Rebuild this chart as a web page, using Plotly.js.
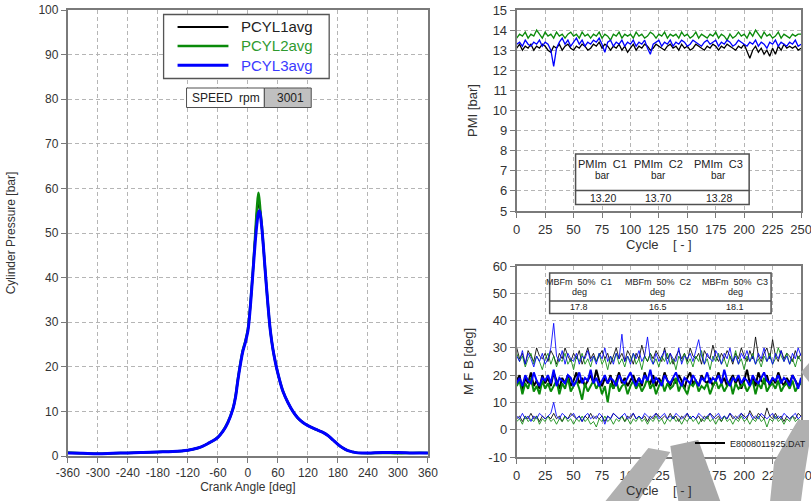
<!DOCTYPE html>
<html><head><meta charset="utf-8">
<script src="https://cdn.plot.ly/plotly-3.0.1.min.js"></script>
<style>html,body{margin:0;padding:0;background:#fff}#c{width:811px;height:501px}</style>
</head><body><div id="c"></div>
<script>
// ---- Cylinder pressure vs crank angle ----
const crankAngle = [-360,-330,-300,-270,-240,-210,-180,-150,-120,-100,-90,-80,-70,-60,-50,-40,-30,-25,-20,-15,-10,-5,0,3,6,10,14,18,21,23,25,28,31,35,40,45,50,55,60,70,80,90,100,110,120,135,150,160,170,180,190,200,210,220,240,270,300,330,360];
const pcyl1 = [0.7,0.6,0.5,0.6,0.7,0.8,0.9,1.0,1.3,1.8,2.2,2.8,3.4,4.2,5.5,7.5,10.5,13.1,17.1,20.6,23.6,25.6,28.2,31.2,35.2,41.2,48,54.5,57,56,54.5,51,47,41,34,28,24,21,18.5,14.5,12,10,8.5,7.5,6.8,6,5.3,4.6,3.6,2.6,1.8,1.2,0.9,0.7,0.7,0.8,0.8,0.7,0.7];
const pcyl2 = [0.8,0.6,0.5,0.6,0.7,0.8,0.9,1.0,1.3,1.8,2.2,2.8,3.4,4.2,5.6,7.6,10.6,13.2,17.2,20.8,23.8,25.8,28.5,31.5,35.5,41.5,48.5,55.5,59,57.5,55,51.5,47,41,34,28,24,21,18.5,14.6,12,10,8.5,7.5,6.8,6,5.3,4.6,3.6,2.6,1.8,1.2,0.9,0.7,0.6,0.7,0.6,0.7,0.7];
const pcyl3 = [0.7,0.6,0.5,0.6,0.7,0.8,0.9,1.0,1.3,1.8,2.2,2.8,3.4,4.2,5.5,7.5,10.5,13,17,20.5,23.5,25.5,28,31,35,41,47,52,54.5,55,54,51,47,41,34,28,24,21,18.5,14.5,12,10,8.5,7.5,6.8,6,5.3,4.6,3.6,2.6,1.8,1.2,0.9,0.7,0.7,0.8,0.8,0.7,0.7];
const pressureNames = ['PCYL1avg', 'PCYL2avg', 'PCYL3avg'];

// ---- PMI per cycle (sampled every 2.5 cycles) ----
const pmiC1 = [13.1,13.3,13.0,13.2,13.1,13.3,13.0,13.2,13.1,13.3,13.2,13.0,12.9,13.2,13.1,13.3,13.0,13.2,13.3,13.1,13.0,13.2,13.1,13.3,13.2,13.0,13.1,13.3,13.2,13.4,13.1,13.3,13.2,13.0,13.2,13.1,13.3,13.0,13.2,12.9,13.1,13.3,13.0,13.2,13.1,13.3,13.2,13.0,13.1,13.3,13.2,13.1,13.0,13.2,13.3,13.1,13.2,13.0,13.3,13.1,13.2,13.0,13.1,13.3,13.2,13.1,13.0,13.2,13.1,13.3,13.2,13.0,13.2,13.1,13.3,13.2,13.1,13.0,13.2,13.1,13.3,12.9,12.6,13.0,13.2,12.9,13.1,12.8,13.0,12.7,13.1,12.8,13.2,13.0,13.3,13.1,13.2,13.1,13.2,13.0,13.1];
const pmiC2 = [13.6,13.8,13.7,13.9,13.6,13.8,13.7,14.0,13.8,13.6,13.9,13.7,13.8,13.6,13.9,13.7,13.8,13.6,13.8,13.9,13.7,13.8,13.6,13.9,13.7,13.8,13.6,13.8,13.7,13.9,13.6,13.8,13.7,13.5,13.8,13.7,13.9,13.6,13.8,13.7,13.8,13.6,13.9,13.7,13.8,13.6,13.7,13.9,13.8,13.6,13.8,13.7,13.9,13.6,13.8,13.7,13.8,13.6,13.9,13.7,13.8,13.6,13.7,13.9,13.6,13.8,13.7,13.6,13.8,13.7,13.9,13.6,13.8,13.7,13.5,13.8,13.6,13.7,13.9,13.7,13.8,13.6,13.9,13.7,14.0,13.8,13.6,13.9,13.7,13.8,13.6,13.7,13.9,13.6,13.8,13.7,13.6,13.8,13.7,13.8,13.8];
const pmiC3 = [13.3,13.4,13.2,13.5,13.3,13.2,13.4,13.3,13.5,13.2,13.4,13.3,13.0,12.2,13.1,13.4,13.6,13.3,13.5,13.2,13.4,13.6,13.3,13.5,13.2,13.4,13.3,13.5,13.4,13.6,13.3,12.9,13.4,13.5,13.2,13.4,13.3,13.5,13.2,13.4,13.3,13.5,13.2,13.4,13.3,13.5,13.1,12.8,13.3,13.4,13.5,13.2,13.4,13.3,13.5,13.2,13.4,13.3,13.5,13.4,13.2,13.3,13.5,13.4,13.3,13.2,13.4,13.5,13.3,13.4,13.5,13.2,13.4,13.3,13.5,13.4,13.2,13.3,13.5,13.4,13.3,13.2,13.4,13.3,13.5,13.2,13.4,13.3,13.1,13.4,13.3,13.5,13.2,13.4,13.3,13.2,13.4,13.3,13.5,13.2,13.3];

// ---- MFB per cycle (10% / 50% / 90%) ----
const mfb50C1 = [18,20,14,19,17,21,16,18,15,20,17,19,16,21,18,15,19,17,20,16,18,21,17,19,16,18,20,17,22,18,16,19,17,20,15,18,21,17,19,16,18,20,17,19,16,21,18,17,20,16,19,17,21,18,16,19,17,20,18,15,19,21,17,18,16,20,18,17,19,16,18,21,17,19,16,18,20,17,19,15,18,22,17,19,16,21,18,17,20,16,19,17,21,18,16,19,17,20,18,16,18];
const mfb50C2 = [16,18,13,17,15,19,14,16,13,18,15,17,14,16,18,13,17,15,19,14,16,18,15,11,17,14,16,18,15,17,13,16,10,17,15,18,14,16,17,13,16,18,15,17,14,16,19,15,17,13,16,18,14,17,15,16,19,14,17,15,13,17,16,18,14,16,15,17,13,16,18,15,17,14,16,18,13,17,15,16,17,14,16,18,13,17,15,19,14,16,17,15,18,14,16,17,15,18,14,16,17];
const mfb50C3 = [17,19,16,20,18,17,21,18,16,19,18,20,17,22,16,19,18,17,20,19,16,18,21,17,19,18,22,17,19,16,18,20,17,19,18,16,20,18,17,19,21,18,16,19,17,20,18,22,17,19,18,16,20,18,17,19,21,18,16,19,18,17,20,18,16,19,18,21,17,19,18,20,17,22,18,16,19,18,20,17,19,18,16,20,18,17,19,21,18,17,19,18,20,17,19,18,16,20,18,15,19];
const mfb90C1 = [30,26,28,24,29,27,25,30,27,26,28,25,29,27,24,28,26,30,27,25,28,26,29,24,27,30,26,28,25,27,29,26,28,24,27,30,26,28,25,29,27,24,28,26,31,27,25,28,26,29,27,25,30,26,28,24,27,29,26,28,25,30,27,26,28,24,29,27,26,31,27,25,28,26,29,27,24,28,26,30,27,25,29,26,34,27,25,28,30,26,33,27,25,29,26,28,27,25,29,26,28];
const mfb90C2 = [28,25,27,23,26,28,24,27,25,22,26,28,24,27,23,26,25,28,24,26,22,27,25,28,24,26,23,27,25,28,24,26,22,27,25,28,24,26,23,27,25,28,24,26,22,27,25,28,24,26,23,27,25,28,24,26,22,27,25,28,24,26,23,27,25,29,24,26,22,27,25,28,24,26,23,27,25,29,24,26,22,27,25,28,24,26,23,27,25,28,24,26,30,27,25,28,24,26,23,27,25];
const mfb90C3 = [27,25,29,24,28,26,23,27,25,28,24,26,30,39,27,25,29,24,28,26,25,28,24,27,26,29,25,27,24,28,26,30,25,27,24,28,26,35,25,27,24,28,26,29,25,27,34,26,24,28,25,27,29,24,28,26,25,30,24,27,26,28,25,29,33,27,24,28,26,25,29,27,24,28,26,30,25,27,24,28,26,29,25,27,24,28,26,30,25,27,24,28,26,29,25,27,24,28,26,30,27];
const mfb10C1 = [4,5,3,5,4,6,4,5,3,5,4,5,4,6,4,5,3,5,4,6,5,4,5,3,5,4,6,4,5,4,5,3,5,4,6,5,4,5,3,5,4,6,4,5,4,5,3,5,4,6,5,4,5,4,6,4,5,3,5,4,6,4,5,4,5,3,5,4,6,5,4,5,3,5,4,6,4,5,4,6,5,4,7,5,4,6,5,4,8,5,4,6,4,5,3,5,4,5,4,6,5];
const mfb10C2 = [3,4,2,5,3,4,3,5,2,4,3,5,3,4,2,4,3,5,3,4,2,4,3,5,3,4,2,3,1,4,3,5,3,4,2,4,3,5,3,4,2,4,3,5,3,4,2,4,3,5,3,4,2,4,3,5,3,4,2,4,3,5,3,4,2,4,3,5,3,4,2,4,3,5,3,4,2,4,3,5,3,4,2,4,3,5,3,4,1,4,3,5,3,4,2,4,3,5,3,4,3];
const mfb10C3 = [5,4,6,4,5,3,5,4,6,5,4,5,6,10,5,4,6,5,4,5,6,4,5,3,5,6,4,5,4,6,5,2,5,4,6,5,4,5,6,4,5,6,4,5,4,6,5,4,5,6,4,5,6,4,5,4,6,5,4,5,6,4,5,4,6,5,4,5,6,4,5,6,4,5,4,6,5,4,5,6,4,5,6,4,5,4,6,5,4,5,6,4,5,4,6,5,4,5,6,4,5];

const cycles = pmiC1.map((_, i) => i * 2.5);

// tick labels (hyphen minus, as in the picture)
const crankTicks = [-360,-300,-240,-180,-120,-60,0,60,120,180,240,300,360];
const crankTickText = ['-360','-300','-240','-180','-120','-60','0','60','120','180','240','300','360'];
const mfbTicks = [-10,0,10,20,30,40,50,60];
const mfbTickText = ['-10','0','10','20','30','40','50','60'];

// table values
const pmiHeaders = ['PMIm C1', 'PMIm C2', 'PMIm C3'];
const pmiUnit = 'bar';
const pmiMeans = ['13.20', '13.70', '13.28'];
const mfbHeaders = ['MBFm 50% C1', 'MBFm 50% C2', 'MBFm 50% C3'];
const mfbUnit = 'deg';
const mfbMeans = ['17.8', '16.5', '18.1'];
const speedLabel = 'SPEED', speedUnit = 'rpm', speedValue = '3001';
const fileName = 'E8008011925.DAT';

const W = 811, H = 501;
const PX = x => x / W, PY = y => 1 - y / H;
const FONT = 'Liberation Sans, Arial, sans-serif';
const BLACK = '#000000', GREEN = '#0a8a0a', BLUE = '#0000ff';
const pressureColors = [BLACK, GREEN, BLUE];
const pressureTextColors = ['#222222', '#2f9a2f', '#3a3aff'];
const pressureWidths = [2, 2.5, 3];

const traces = [];
[pcyl1, pcyl2, pcyl3].forEach((d, i) => traces.push({x: crankAngle, y: d, xaxis: 'x', yaxis: 'y', mode: 'lines',
  line: {color: pressureColors[i], width: pressureWidths[i], shape: 'spline'}, name: pressureNames[i], showlegend: false}));
traces.push({x: cycles, y: pmiC1, xaxis: 'x2', yaxis: 'y2', mode: 'lines', line: {color: BLACK, width: 1.3}, showlegend: false});
traces.push({x: cycles, y: pmiC2, xaxis: 'x2', yaxis: 'y2', mode: 'lines', line: {color: GREEN, width: 1.3}, showlegend: false});
traces.push({x: cycles, y: pmiC3, xaxis: 'x2', yaxis: 'y2', mode: 'lines', line: {color: BLUE, width: 1.3}, showlegend: false});
const thin = [[mfb90C1, BLACK], [mfb90C2, GREEN], [mfb90C3, BLUE], [mfb10C1, BLACK], [mfb10C2, GREEN], [mfb10C3, BLUE]];
thin.forEach(([d, c]) => traces.push({x: cycles, y: d, xaxis: 'x3', yaxis: 'y3', mode: 'lines', line: {color: c, width: 1}, opacity: 0.85, showlegend: false}));
traces.push({x: cycles, y: mfb50C1, xaxis: 'x3', yaxis: 'y3', mode: 'lines', line: {color: BLACK, width: 2}, name: fileName, legend: 'legend2', showlegend: true});
traces.push({x: cycles, y: mfb50C2, xaxis: 'x3', yaxis: 'y3', mode: 'lines', line: {color: GREEN, width: 2}, showlegend: false});
traces.push({x: cycles, y: mfb50C3, xaxis: 'x3', yaxis: 'y3', mode: 'lines', line: {color: BLUE, width: 2}, showlegend: false});

const ax = (extra) => Object.assign({
  showline: true, linecolor: '#7a7a7a', linewidth: 2, mirror: true,
  ticks: 'outside', ticklen: 5, tickcolor: '#7a7a7a', tickwidth: 1,
  showgrid: true, gridcolor: '#b5b5b5', griddash: '4px,3px', gridwidth: 1,
  zeroline: false, fixedrange: true, ticklabeloverflow: 'allow',
  tickfont: {family: FONT, size: 12, color: '#333'},
}, extra);

const shapes = [];
const annotations = [];
const rect = (x0, y0, x1, y1, fill, lw, col) => shapes.push({type: 'rect', xref: 'paper', yref: 'paper', x0: PX(x0), x1: PX(x1), y0: PY(y0), y1: PY(y1), fillcolor: fill, line: {color: col || '#505050', width: lw}, layer: 'above'});
const hline = (x0, x1, y, lw, col) => shapes.push({type: 'line', xref: 'paper', yref: 'paper', x0: PX(x0), x1: PX(x1), y0: PY(y), y1: PY(y), line: {color: col || '#505050', width: lw}, layer: 'above'});
const txt = (x, y, t, size, xanchor, color) => annotations.push({xref: 'paper', yref: 'paper', x: PX(x), y: PY(y), text: t, showarrow: false, xanchor: xanchor || 'center', yanchor: 'middle', font: {family: FONT, size: size, color: color || '#222'}});

// legend for the pressure curves
rect(164, 14.5, 330, 78.5, '#ffffff', 1.3, '#555555');
[27, 46, 65.3].forEach((yy, i) => {
  hline(178, 229, yy, pressureWidths[i], pressureColors[i]);
  txt(240, yy, pressureNames[i], 15, 'left', pressureTextColors[i]);
});

// speed box
rect(187, 88, 265, 107.5, '#ffffff', 1);
rect(265, 88, 312, 107.5, '#c0c0c0', 1);
txt(190, 98, speedLabel, 12, 'left');
txt(250, 98, speedUnit, 12, 'center');
txt(307, 98, speedValue, 12, 'right');

// PMI table
rect(577, 154, 751, 204.5, '#ffffff', 1.5);
hline(577, 751, 190.5, 1.5);
const pmiCols = [604, 660, 720.5];
pmiCols.forEach((cx, i) => {
  txt(cx, 164, pmiHeaders[i].replace(/ /g, '&nbsp;&nbsp;'), 11);
  txt(cx, 175.5, pmiUnit, 10);
  txt(cx, 198.5, pmiMeans[i], 10.5);
});

// MFB table
rect(551, 273, 773, 313.5, '#ffffff', 1.5);
hline(551, 773, 301, 1.5);
const mfbCols = [580.5, 659.5, 737];
mfbCols.forEach((cx, i) => {
  txt(cx, 282, mfbHeaders[i].replace(/ /g, '&nbsp;&nbsp;'), 9);
  txt(cx, 292, mfbUnit, 9);
  txt(cx, 307, mfbMeans[i], 9);
});

// overlaid grey marks present in the picture
const poly = (pts, col) => shapes.push({type: 'path', xref: 'paper', yref: 'paper', path: 'M' + pts.map(p => PX(p[0]) + ',' + PY(p[1])).join(' L') + ' Z', fillcolor: col, line: {width: 0}, layer: 'above'});
poly([[650, 448], [672, 452], [640, 501], [607, 501]], '#b0b0b0');
poly([[672, 446], [700, 440], [722, 501], [680, 501]], '#a8a8a8');
poly([[800, 420], [811, 420], [811, 446], [806, 478], [803, 501], [772, 501], [776, 462], [790, 437]], '#b0b0b0');
poly([[803, 372], [811, 363], [811, 382]], '#b0b0b0');

const layout = {
  width: W, height: H, margin: {l: 0, r: 0, t: 0, b: 0},
  paper_bgcolor: '#ffffff', plot_bgcolor: '#ffffff',
  font: {family: FONT, color: '#333'},
  showlegend: true,
  xaxis: ax({domain: [PX(68), PX(429)], anchor: 'y', range: [-360, 360], tickmode: 'array', tickvals: crankTicks, ticktext: crankTickText,
    title: {text: 'Crank Angle [deg]', font: {family: FONT, size: 12, color: '#333'}, standoff: 2}}),
  yaxis: ax({domain: [PY(456), PY(10)], anchor: 'x', range: [0, 100], dtick: 10,
    title: {text: 'Cylinder Pressure [bar]', font: {family: FONT, size: 12, color: '#333'}, standoff: 20}}),
  xaxis2: ax({domain: [PX(518), PX(803)], anchor: 'y2', range: [0, 250], dtick: 25, tickfont: {family: FONT, size: 13, color: '#333'},
    title: {text: 'Cycle&nbsp;&nbsp;&nbsp;&nbsp;[ - ]', font: {family: FONT, size: 13, color: '#333'}, standoff: 1}}),
  yaxis2: ax({domain: [PY(211), PY(10)], anchor: 'x2', range: [5, 15], dtick: 1, tickfont: {family: FONT, size: 13, color: '#333'},
    title: {text: 'PMI [bar]', font: {family: FONT, size: 13, color: '#333'}, standoff: 12}}),
  xaxis3: ax({domain: [PX(518), PX(803)], anchor: 'y3', range: [0, 250], dtick: 25, tickfont: {family: FONT, size: 13, color: '#333'},
    title: {text: 'Cycle&nbsp;&nbsp;&nbsp;&nbsp;[ - ]', font: {family: FONT, size: 13, color: '#333'}, standoff: 1}}),
  yaxis3: ax({domain: [PY(457), PY(266)], anchor: 'x3', range: [-10, 60], tickmode: 'array', tickvals: mfbTicks, ticktext: mfbTickText,
    tickfont: {family: FONT, size: 13, color: '#333'},
    title: {text: 'M F B [deg]', font: {family: FONT, size: 13, color: '#333'}, standoff: 12}}),
  legend2: {x: PX(692), y: PY(443), xanchor: 'left', yanchor: 'middle', bgcolor: 'rgba(0,0,0,0)', borderwidth: 0,
    font: {family: FONT, size: 9, color: '#222'}, itemwidth: 30},
  shapes: shapes, annotations: annotations,
};

Plotly.newPlot('c', traces, layout, {staticPlot: true, displayModeBar: false});
</script></body></html>
